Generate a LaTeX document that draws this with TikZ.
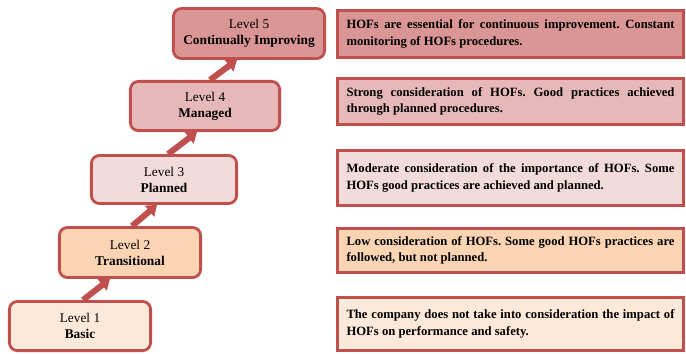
\documentclass[tikz,border=0pt]{standalone}
\usepackage{fontspec}
\setmainfont{Liberation Serif}
\usetikzlibrary{arrows.meta}
\definecolor{lvlred}{HTML}{C0504D}
\definecolor{fillfive}{HTML}{D99694}
\definecolor{fillfour}{HTML}{E6B9B8}
\definecolor{fillthree}{HTML}{F2DCDB}
\definecolor{filltwo}{HTML}{FBD4B4}
\definecolor{fillone}{HTML}{FDE9D9}
\frenchspacing
\begin{document}
\begin{tikzpicture}[
    level/.style={draw=lvlred, line width=2pt, rounded corners=0.2cm, align=center,
        inner sep=0pt, font=\fontsize{9.5}{11.4}\selectfont},
    note/.style={draw=lvlred, line width=2pt, text width=8.2cm, inner xsep=0.225cm,
        inner ysep=0pt, align=justify, font={\bfseries\fontsize{9}{11.9}\selectfont\hyphenpenalty=10000}},
    up/.style={lvlred, line width=4.3pt, -{Triangle[length=7pt,width=10pt]}}]
    \useasboundingbox (0,0) rectangle (17.15,-8.825);

    % Levels (staircase)
    \node[level, fill=fillfive, minimum width=3.78cm, minimum height=1.25cm] (l5) at (6.225,-0.8375) {Level 5\\\textbf{Continually Improving}};
    \node[level, fill=fillfour, minimum width=3.73cm, minimum height=1.23cm] (l4) at (5.125,-2.65) {Level 4\\\textbf{Managed}};
    \node[level, fill=fillthree, minimum width=3.63cm, minimum height=1.2cm] (l3) at (4.1,-4.4875) {Level 3\\\textbf{Planned}};
    \node[level, fill=filltwo, minimum width=3.53cm, minimum height=1.25cm] (l2) at (3.25,-6.3125) {Level 2\\\textbf{Transitional}};
    \node[level, fill=fillone, minimum width=3.53cm, minimum height=1.23cm] (l1) at (2.0,-8.15) {Level 1\\\textbf{Basic}};

    % Step arrows
    \foreach \a/\b/\s/\e in {l1/l2/0.075/-0.5, l2/l3/0.05/-0.175, l3/l4/0.1/-0.2, l4/l5/0.125/-0.3}
        \draw[up] ([xshift=\s cm]\a.north) -- ([xshift=\e cm]\b.south);

    % Descriptions
    \node[note, fill=fillfive, minimum height=1.18cm] (d5) at (12.7625,-0.85) {HOFs are essential for continuous improvement. Constant\linebreak monitoring of HOFs procedures.};
    \node[note, fill=fillfour, minimum height=1.16cm] (d4) at (12.7625,-2.5375) {Strong consideration of HOFs. Good practices achieved\linebreak through planned procedures.};
    \node[note, fill=fillthree, minimum height=1.38cm] (d3) at (12.7625,-4.45) {Moderate consideration of the importance of HOFs. Some\linebreak HOFs good practices are achieved and planned.};
    \node[note, fill=filltwo, minimum height=1.1cm] (d2) at (12.7625,-6.2625) {Low consideration of HOFs. Some good HOFs practices are\linebreak followed, but not planned.};
    \node[note, fill=fillone, minimum height=1.33cm] (d1) at (12.7625,-8.1) {The company does not take into consideration the impact of\linebreak HOFs on performance and safety.};
\end{tikzpicture}
\end{document}
